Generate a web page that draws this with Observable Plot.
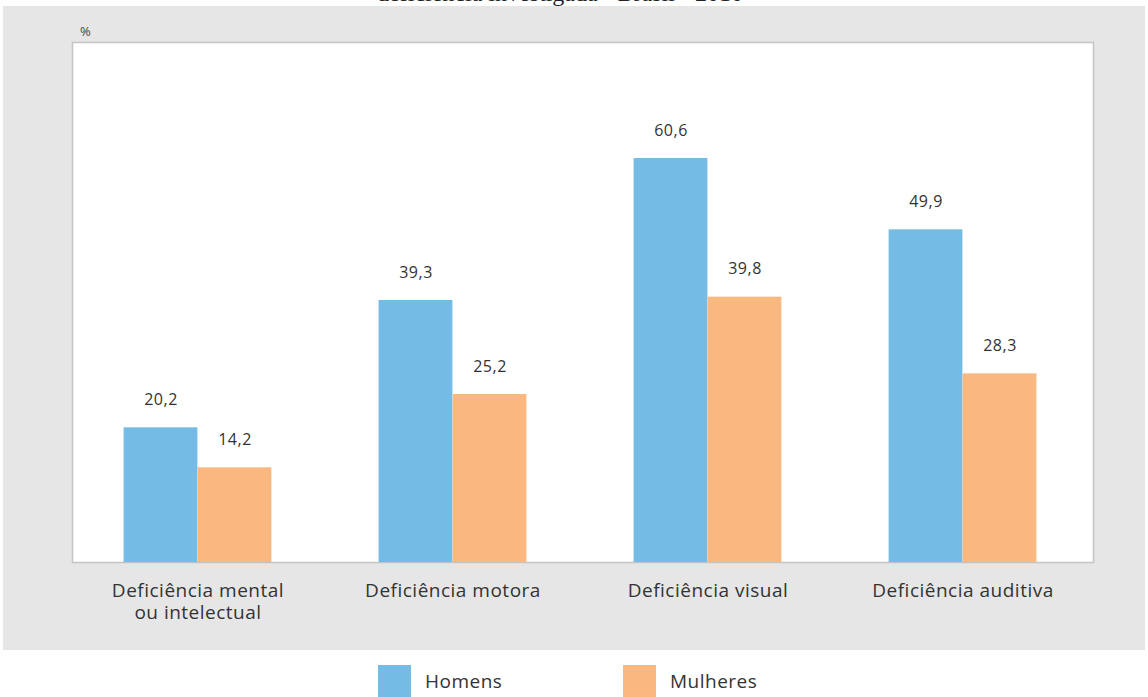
<!DOCTYPE html>
<html>
<head>
<meta charset="utf-8">
<script src="https://cdn.jsdelivr.net/npm/d3@7"></script>
<script src="https://cdn.jsdelivr.net/npm/@observablehq/plot@0.6"></script>
<style>
  html, body { margin: 0; padding: 0; background: #fff; width: 1148px; height: 697px; overflow: hidden; position: relative; font-family: "Open Sans", sans-serif; }
  #title { position: absolute; left: 0; width: 1120px; top: -20px; text-align: center; font-family: "Liberation Serif", serif; font-size: 24px; color: #222; white-space: nowrap; }
  #panel { position: absolute; left: 3px; top: 6px; width: 1142px; height: 644px; background: #e6e6e6; }
  #pct { position: absolute; left: 80px; top: 22px; font-size: 13px; color: #444; }
  #chart { position: absolute; left: 0; top: 0; }
  .leg { position: absolute; top: 665px; display: flex; align-items: flex-start; }
  .sw { width: 33px; height: 40px; }
  .lt { font-size: 19px; letter-spacing: 0.5px; color: #333; margin-left: 14px; margin-top: 3px; }
</style>
</head>
<body>
<div id="title">deficiência investigada - Brasil - 2010</div>
<div id="panel"><div id="chart"></div></div>
<div id="pct">%</div>
<div class="leg" style="left:378px"><div class="sw" style="background:#74bbe5"></div><div class="lt">Homens</div></div>
<div class="leg" style="left:623px"><div class="sw" style="background:#f8b87f"></div><div class="lt">Mulheres</div></div>
<script>
const categories = ["Deficiência mental ou intelectual", "Deficiência motora", "Deficiência visual", "Deficiência auditiva"];
const homens = [20.2, 39.3, 60.6, 49.9];
const mulheres = [14.2, 25.2, 39.8, 28.3];
const seriesNames = ["Homens", "Mulheres"];
const colors = ["#74bbe5", "#f8b87f"];

const dataH = categories.map((c, i) => ({cat: c, v: homens[i]}));
const dataM = categories.map((c, i) => ({cat: c, v: mulheres[i]}));
const fmt = v => v.toFixed(1).replace(".", ",");

const W = 1142, H = 644;
const half = 127.6, barW = 74;

const chart = Plot.plot({
  width: W,
  height: H,
  marginLeft: 69,
  marginRight: 52,
  marginTop: 36,
  marginBottom: 88,
  style: {background: "transparent", fontFamily: "Open Sans, sans-serif", letterSpacing: "0.5px"},
  x: {domain: categories, range: [66.5, 1087.5], padding: 0},
  y: {domain: [0, 78], axis: null},
  marks: [
    Plot.frame({fill: "white", stroke: "#c4c4c4", strokeWidth: 1.5}),
    Plot.barY(dataH, {x: "cat", y: "v", fill: colors[0], insetLeft: half - barW, insetRight: half}),
    Plot.barY(dataM, {x: "cat", y: "v", fill: colors[1], insetLeft: half, insetRight: half - barW}),
    Plot.text(dataH, {x: "cat", y: "v", text: d => fmt(d.v), dx: -barW / 2, dy: -28, fontSize: 16, fill: "#333"}),
    Plot.text(dataM, {x: "cat", y: "v", text: d => fmt(d.v), dx: barW / 2, dy: -28, fontSize: 16, fill: "#333"}),
    Plot.axisX({
      tickSize: 0,
      tickPadding: 18,
      fontSize: 19,
      fill: "#333",
      lineHeight: 1.2,
      label: null,
      tickFormat: d => d.replace(" ou ", "\nou ")
    })
  ]
});
document.getElementById("chart").appendChild(chart);
</script>
</body>
</html>
